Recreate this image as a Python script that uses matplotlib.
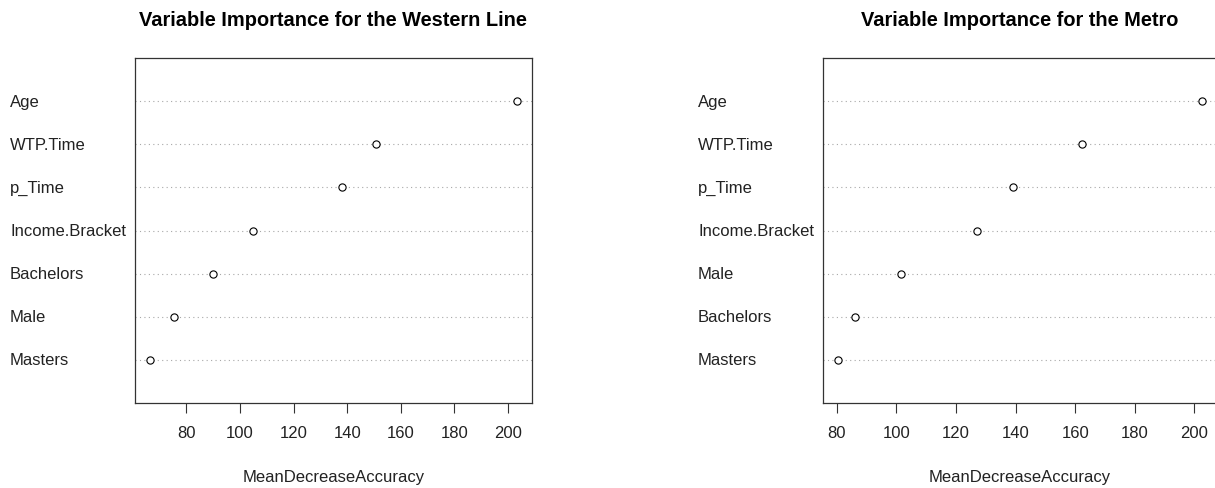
import matplotlib
matplotlib.use('Agg')
import matplotlib.pyplot as plt

plt.rcParams['font.family'] = ['Liberation Sans', 'DejaVu Sans']

# variable importance (MeanDecreaseAccuracy), listed top to bottom
western_vars = ['Age', 'WTP.Time', 'p_Time', 'Income.Bracket', 'Bachelors', 'Male', 'Masters']
western_imp = [203.3, 150.7, 138.2, 104.8, 90.0, 75.4, 66.4]

metro_vars = ['Age', 'WTP.Time', 'p_Time', 'Income.Bracket', 'Male', 'Bachelors', 'Masters']
metro_imp = [202.6, 162.3, 139.2, 127.1, 101.5, 86.1, 80.3]

xticks = [80, 100, 120, 140, 160, 180, 200]

W, H = 1215, 489
fig = plt.figure(figsize=(W / 100, H / 100), dpi=100)

def px_axes(x0, y0, x1, y1):
    return fig.add_axes([x0 / W, 1 - y1 / H, (x1 - x0) / W, (y1 - y0) / H])

def dotchart(ax, names, vals, title):
    n = len(names)
    ypos = list(range(n, 0, -1))
    for y in ypos:
        ax.axhline(y, color='#A8A8A8', lw=0.8, linestyle=(0, (1, 3)), zorder=1)
    ax.plot(vals, ypos, 'o', mfc='white', mec='black', ms=5.2, mew=0.8, zorder=3)
    lo, hi = min(vals), max(vals)
    pad = 0.04 * (hi - lo)
    ax.set_xlim(lo - pad, hi + pad)
    ax.set_ylim(0, n + 1)
    ax.set_yticks([])
    ax.set_xticks(xticks)
    ax.tick_params(axis='x', length=7, width=0.8, color='#333333', labelsize=12, pad=9,
                   labelcolor='#222222')
    for s in ax.spines.values():
        s.set_color('#333333')
        s.set_linewidth(0.9)
    # labels left-aligned at the panel's left edge
    for name, y in zip(names, ypos):
        ax.annotate(name, xy=(0, y), xycoords=('axes fraction', 'data'),
                    xytext=(-125 * 0.72, 0), textcoords='offset points',
                    ha='left', va='center', fontsize=12, color='#222222')
    ax.set_xlabel('MeanDecreaseAccuracy', fontsize=12, labelpad=21, color='#222222')
    ax.set_title(title, fontsize=14.4, fontweight='bold', pad=23.5)

ax1 = px_axes(135, 59, 531.7, 404)
dotchart(ax1, western_vars, western_imp, 'Variable Importance for the Western Line')

ax2 = px_axes(823, 59, 1216.7, 404)
dotchart(ax2, metro_vars, metro_imp, 'Variable Importance for the Metro')

fig.savefig('out.png', dpi=100)
